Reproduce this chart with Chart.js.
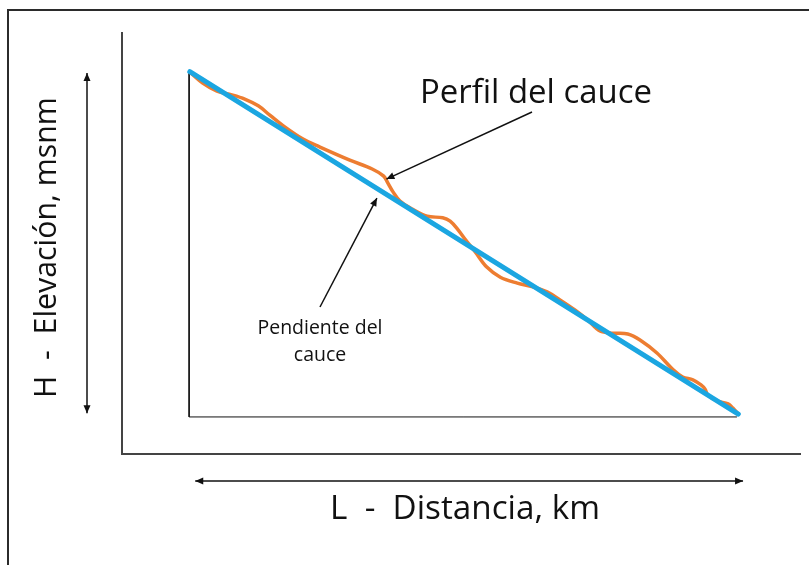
<!DOCTYPE html>
<html>
<head>
<meta charset="utf-8">
<title>Perfil del cauce</title>
<script src="https://cdn.jsdelivr.net/npm/chart.js@4.4.0/dist/chart.umd.min.js"></script>
<style>
  html, body { margin: 0; padding: 0; background: #fff; }
  canvas { display: block; }
</style>
</head>
<body>
<canvas id="chart" width="809" height="565"></canvas>
<script>
// Channel profile (x: distance, y: elevation, both 0-100 along the axes)
const profileDist = [10.0, 11.9, 14.0, 16.2, 18.1, 20.1, 21.8, 24.0, 26.7, 29.2,
  33.6, 36.9, 38.6, 39.2, 40.0, 41.0, 42.8, 45.0, 47.3, 48.4,
  49.6, 50.7, 52.1, 53.8, 55.8, 58.3, 60.6, 62.7, 64.6, 66.8,
  68.7, 70.5, 72.4, 74.6, 76.4, 78.9, 81.3, 82.7, 84.2, 85.4,
  86.0, 86.4, 87.8, 89.4, 90.1, 90.9];
const profileElev = [90.7, 88.1, 86.2, 85.3, 84.3, 82.7, 80.5, 77.7, 74.8, 72.9,
  69.8, 67.7, 66.0, 64.4, 62.2, 60.1, 58.2, 56.5, 56.1, 55.3,
  53.2, 50.8, 48.0, 44.4, 42.0, 40.6, 39.7, 38.5, 36.6, 34.2,
  31.8, 29.2, 28.7, 28.5, 27.1, 24.0, 20.0, 18.3, 17.6, 16.4,
  15.4, 14.0, 12.6, 11.9, 10.9, 9.5];

// Straight slope line (start and end)
const slopeDist = [10.0, 90.9];
const slopeElev = [90.8, 9.5];

// Thin reference corner under the profile
const cornerDist = [9.9, 9.9, 90.7];
const cornerElev = [90.7, 8.8, 8.8];

// Labels
const profileLabel = 'Perfil del cauce';
const slopeLabel = ['Pendiente del', 'cauce'];
const xTitle = 'L  -  Distancia, km';
const yTitle = 'H  -  Elevación, msnm';

const ORANGE = '#ed7d31';
const BLUE = '#1ba6e1';
const FONT = '"Open Sans", "Noto Sans", sans-serif';

function toPoints(xs, ys) {
  return xs.map((x, i) => ({ x: x, y: ys[i] }));
}

// Draw a line with a filled arrow head at the end (and at the start if both)
function arrow(ctx, x1, y1, x2, y2, both) {
  const head = (px, py, ang) => {
    const len = 8, half = 3.5;
    ctx.beginPath();
    ctx.moveTo(px, py);
    ctx.lineTo(px - len * Math.cos(ang) + half * Math.sin(ang), py - len * Math.sin(ang) - half * Math.cos(ang));
    ctx.lineTo(px - len * Math.cos(ang) - half * Math.sin(ang), py - len * Math.sin(ang) + half * Math.cos(ang));
    ctx.closePath();
    ctx.fill();
  };
  const ang = Math.atan2(y2 - y1, x2 - x1);
  ctx.beginPath();
  ctx.moveTo(x1, y1);
  ctx.lineTo(x2, y2);
  ctx.stroke();
  head(x2, y2, ang);
  if (both) head(x1, y1, ang + Math.PI);
}

// Font size that makes the text span a given width
function fitSize(ctx, text, width) {
  ctx.font = '100px ' + FONT;
  return 100 * width / ctx.measureText(text).width;
}

const sketchPlugin = {
  id: 'sketch',
  afterDraw(chart) {
    const ctx = chart.ctx;
    const xs = chart.scales.x, ys = chart.scales.y;
    ctx.save();

    // outer picture frame (top and left edges)
    ctx.strokeStyle = '#2b2b2b';
    ctx.lineWidth = 2;
    ctx.beginPath();
    ctx.moveTo(809, 10);
    ctx.lineTo(8, 10);
    ctx.lineTo(8, 565);
    ctx.stroke();

    ctx.strokeStyle = '#111';
    ctx.fillStyle = '#111';
    ctx.lineWidth = 1.5;

    // dimension arrows
    arrow(ctx, 87, ys.getPixelForValue(90.5), 87, ys.getPixelForValue(9.7), true);
    arrow(ctx, xs.getPixelForValue(10.8), 481, xs.getPixelForValue(91.6), 481, true);

    // callout arrows
    arrow(ctx, 532, 112, xs.getPixelForValue(39.0), ys.getPixelForValue(65.3), false);
    arrow(ctx, 320, 307, xs.getPixelForValue(37.6), ys.getPixelForValue(60.8), false);

    // texts
    ctx.fillStyle = '#111';
    ctx.textBaseline = 'alphabetic';
    ctx.textAlign = 'left';
    let s = fitSize(ctx, profileLabel, 232);
    ctx.font = s + 'px ' + FONT;
    ctx.fillText(profileLabel, 420, 103);

    ctx.textAlign = 'center';
    s = fitSize(ctx, slopeLabel[0], 125);
    ctx.font = s + 'px ' + FONT;
    ctx.fillText(slopeLabel[0], 320, 334);
    ctx.fillText(slopeLabel[1], 320, 361);

    ctx.textAlign = 'left';
    s = fitSize(ctx, xTitle, 270);
    ctx.font = s + 'px ' + FONT;
    ctx.fillText(xTitle, 330, 519);

    s = fitSize(ctx, yTitle, 301);
    ctx.font = s + 'px ' + FONT;
    ctx.translate(56, 398);
    ctx.rotate(-Math.PI / 2);
    ctx.fillText(yTitle, 0, 0);

    ctx.restore();
  }
};

const axisOpts = {
  min: 0,
  max: 100,
  ticks: { display: false },
  grid: { display: false, drawTicks: false },
  border: { display: true, color: '#444', width: 2 }
};

new Chart(document.getElementById('chart'), {
  type: 'scatter',
  data: {
    datasets: [
      {
        label: 'Pendiente del cauce',
        data: toPoints(slopeDist, slopeElev),
        showLine: true,
        borderColor: BLUE,
        borderWidth: 5,
        pointRadius: 0,
        borderCapStyle: 'round'
      },
      {
        label: 'Perfil del cauce',
        data: toPoints(profileDist, profileElev),
        showLine: true,
        borderColor: ORANGE,
        borderWidth: 3.5,
        pointRadius: 0,
        tension: 0.35,
        borderCapStyle: 'round'
      },
      {
        label: 'marco',
        data: toPoints(cornerDist, cornerElev),
        showLine: true,
        borderColor: '#111',
        borderWidth: 1,
        pointRadius: 0
      }
    ]
  },
  options: {
    responsive: false,
    animation: false,
    devicePixelRatio: 1,
    layout: { padding: { left: 122, right: 9, top: 33, bottom: 111 } },
    plugins: {
      legend: { display: false },
      tooltip: { enabled: false }
    },
    scales: {
      x: { ...axisOpts, type: 'linear' },
      y: { ...axisOpts, type: 'linear' }
    }
  },
  plugins: [sketchPlugin]
});
</script>
</body>
</html>
